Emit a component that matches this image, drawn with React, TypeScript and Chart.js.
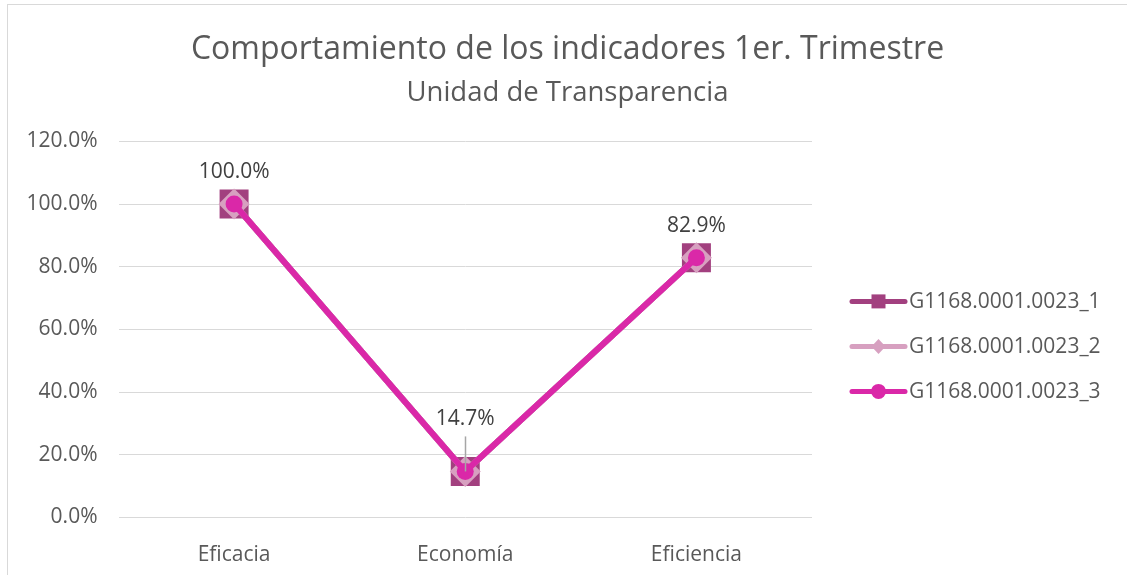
import React, { useEffect, useRef } from "react";
import { Chart, registerables } from "chart.js";

Chart.register(...registerables);

const categories = ["Eficacia", "Economía", "Eficiencia"];
const seriesNames = ["G1168.0001.0023_1", "G1168.0001.0023_2", "G1168.0001.0023_3"];
const series1 = [100, 14.7, 82.9];
const series2 = [100, 14.7, 82.9];
const series3 = [100, 14.7, 82.9];
const yTicks = [0, 20, 40, 60, 80, 100, 120];
const titleText = "Comportamiento de los indicadores 1er. Trimestre";
const subtitleText = "Unidad de Transparencia";

const COLORS = ["#A2407F", "#D7A0C0", "#DA28A8"];
const MARKERS = ["rect", "rectRot", "circle"];
const FONT = "'Open Sans', sans-serif";
const fmt = (v: number) => v.toFixed(1) + "%";

// per-label vertical lift (px) above the point, and whether a leader line is drawn
const LABEL_LIFT = [32, 52, 32];
const LABEL_LEADER = [false, true, false];

const dataLabelPlugin = {
  id: "dataLabels",
  afterDatasetsDraw(chart: any) {
    const ctx = chart.ctx;
    const meta = chart.getDatasetMeta(2);
    const data = chart.data.datasets[2].data as number[];
    ctx.save();
    ctx.font = `21px ${FONT}`;
    ctx.fillStyle = "#404040";
    ctx.textAlign = "center";
    ctx.textBaseline = "middle";
    meta.data.forEach((pt: any, i: number) => {
      const lift = LABEL_LIFT[i];
      const ly = pt.y - lift;
      if (LABEL_LEADER[i]) {
        ctx.strokeStyle = "#A6A6A6";
        ctx.lineWidth = 1.5;
        ctx.beginPath();
        ctx.moveTo(Math.round(pt.x) + 0.5, ly + 17);
        ctx.lineTo(Math.round(pt.x) + 0.5, pt.y);
        ctx.stroke();
      }
      ctx.fillText(fmt(data[i]), pt.x, ly);
    });
    ctx.restore();
  },
};

const legendPlugin = {
  id: "sideLegend",
  afterDraw(chart: any) {
    const ctx = chart.ctx;
    const area = chart.chartArea;
    const x0 = area.right + 40;
    const x1 = x0 + 53;
    ctx.save();
    seriesNames.forEach((name, i) => {
      const y = area.top + 160 + i * 45;
      const color = COLORS[i];
      ctx.strokeStyle = color;
      ctx.lineWidth = 5;
      ctx.lineCap = "round";
      ctx.beginPath();
      ctx.moveTo(x0, y);
      ctx.lineTo(x1, y);
      ctx.stroke();
      const cx = (x0 + x1) / 2;
      ctx.fillStyle = color;
      ctx.beginPath();
      if (MARKERS[i] === "rect") {
        ctx.rect(cx - 7, y - 7, 14, 14);
      } else if (MARKERS[i] === "rectRot") {
        ctx.moveTo(cx, y - 7.5);
        ctx.lineTo(cx + 7, y);
        ctx.lineTo(cx, y + 7.5);
        ctx.lineTo(cx - 7, y);
        ctx.closePath();
      } else {
        ctx.arc(cx, y, 7.5, 0, Math.PI * 2);
      }
      ctx.fill();
      ctx.fillStyle = "#595959";
      ctx.font = `21px ${FONT}`;
      ctx.textAlign = "left";
      ctx.textBaseline = "middle";
      ctx.fillText(name, x1 + 4, y + 1);
    });
    ctx.restore();
  },
};

export default function App() {
  const ref = useRef<HTMLCanvasElement | null>(null);

  useEffect(() => {
    if (!ref.current) return;
    const seriesData = [series1, series2, series3];
    const radii = [20.5, 15.5, 8.5];
    const chart = new Chart(ref.current, {
      type: "line",
      data: {
        labels: categories,
        datasets: seriesData.map((d, i) => ({
          label: seriesNames[i],
          data: d,
          borderColor: COLORS[i],
          backgroundColor: COLORS[i],
          borderWidth: 6,
          borderJoinStyle: "round" as const,
          borderCapStyle: "round" as const,
          tension: 0,
          pointStyle: MARKERS[i] as any,
          pointRadius: radii[i],
          pointHoverRadius: radii[i],
          pointBorderWidth: 0,
          pointBackgroundColor: COLORS[i],
          order: 2 - i,
        })),
      },
      options: {
        animation: false,
        responsive: true,
        maintainAspectRatio: false,
        layout: { padding: { left: 0, right: 0, top: 0, bottom: 0 } },
        plugins: {
          legend: { display: false },
          tooltip: { enabled: false },
          title: {
            display: true,
            text: titleText,
            color: "#595959",
            font: { family: FONT, size: 32, weight: "normal" },
            padding: { top: 26, bottom: 7 },
          },
          subtitle: {
            display: true,
            text: subtitleText,
            color: "#595959",
            font: { family: FONT, size: 27.5, weight: "normal" },
            padding: { top: 0, bottom: 32 },
          },
        },
        scales: {
          x: {
            type: "category",
            offset: true,
            grid: { display: false },
            border: { display: false },
            ticks: {
              color: "#595959",
              font: { family: FONT, size: 21 },
              padding: 17,
              maxRotation: 0,
            },
            afterFit: (s: any) => {
              s.height = 57.5;
            },
          },
          y: {
            min: 0,
            max: 120,
            grid: { color: "#D9D9D9", lineWidth: 1, drawTicks: false },
            border: { display: false },
            ticks: {
              color: "#595959",
              font: { family: FONT, size: 21 },
              padding: 21,
              callback: (v: any) => fmt(Number(v)),
            },
            afterBuildTicks: (s: any) => {
              s.ticks = yTicks.map((v) => ({ value: v }));
            },
            afterFit: (s: any) => {
              s.width = 110.5;
            },
          },
          legendSpace: {
            type: "linear",
            position: "right",
            display: true,
            grid: { display: false },
            border: { display: false },
            ticks: { display: false },
            afterFit: (s: any) => {
              s.width = 315;
            },
          },
        },
      },
      plugins: [dataLabelPlugin, legendPlugin],
    });
    return () => chart.destroy();
  }, []);

  return (
    <div
      style={{
        position: "absolute",
        left: 7,
        top: 4,
        width: 1119,
        height: 570,
        borderTop: "1px solid #D9D9D9",
        borderLeft: "1px solid #D9D9D9",
        background: "#FFFFFF",
      }}
    >
      <canvas ref={ref} />
    </div>
  );
}
